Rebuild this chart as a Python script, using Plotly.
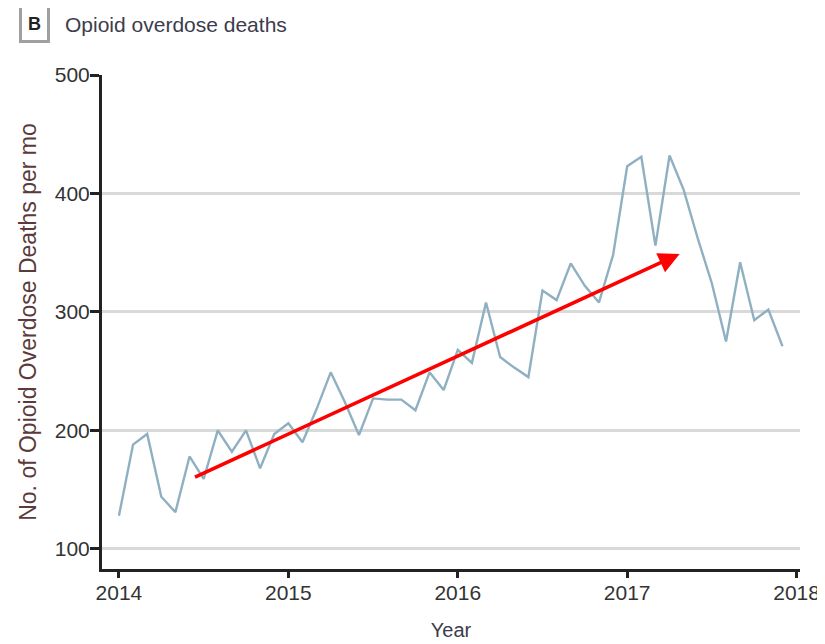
import plotly.graph_objects as go

# Monthly opioid overdose deaths, Jan 2014 - Dec 2017
start_year = 2014
deaths = [128, 188, 197, 144, 131, 178, 159, 200, 182, 200, 168, 197,
          206, 190, 218, 249, 224, 196, 227, 226, 226, 217, 249, 234,
          268, 257, 308, 262, 253, 245, 318, 310, 341, 322, 308, 348,
          423, 431, 356, 432, 403, 362, 324, 275, 342, 293, 302, 271]
x_vals = [start_year + i / 12 for i in range(len(deaths))]

# Trend arrow (start / end) in data coordinates
arrow_x = [2014.44, 2017.31]
arrow_y = [160, 349]

y_ticks = [100, 200, 300, 400, 500]
x_ticks = [2014, 2015, 2016, 2017, 2018]

FONT = "Liberation Sans, Arial, sans-serif"

fig = go.Figure()
fig.add_trace(go.Scatter(
    x=x_vals, y=deaths, mode="lines",
    line=dict(color="#8fb0c0", width=2.4),
    showlegend=False, hoverinfo="skip"))

fig.add_annotation(
    x=arrow_x[1], y=arrow_y[1], ax=arrow_x[0], ay=arrow_y[0],
    xref="x", yref="y", axref="x", ayref="y",
    showarrow=True, arrowhead=2, arrowsize=1.2, arrowwidth=3.5,
    arrowcolor="#ff0000", text="")

# Panel label and title
fig.add_annotation(
    x=-0.0973, y=1.103, xref="paper", yref="paper",
    text="<b>B</b>", showarrow=False,
    font=dict(family=FONT, size=18, color="#222222"),
    bordercolor="#a0a0a0", borderwidth=3, borderpad=6,
    xanchor="center", yanchor="middle")
fig.add_annotation(
    x=-0.0558, y=1.103, xref="paper", yref="paper",
    text="Opioid overdose deaths", showarrow=False,
    font=dict(family=FONT, size=21, color="#3c3c4c"),
    xanchor="left", yanchor="middle")

# The page adds an 8px body margin, so the figure is sized to fit the window
fig.update_layout(
    width=817, height=636,
    margin=dict(l=94, r=25, t=67, b=75),
    paper_bgcolor="white", plot_bgcolor="white",
    font=dict(family=FONT, size=20, color="#333333"),
)
fig.update_xaxes(
    range=[2013.9, 2018.02], tickvals=x_ticks,
    ticktext=[str(t) for t in x_ticks],
    showgrid=False, zeroline=False, automargin=False,
    showline=True, linecolor="#222222", linewidth=3,
    ticks="outside", ticklen=6, tickwidth=2.5, tickcolor="#222222",
    ticklabelstandoff=-3,
    tickfont=dict(family=FONT, size=21, color="#333333"),
    title=dict(text="Year", standoff=20,
               font=dict(family=FONT, size=20, color="#3c3c4c")))
fig.update_yaxes(
    range=[83, 500], tickvals=y_ticks,
    showgrid=True, gridcolor="#d9d9d9", gridwidth=2.5, zeroline=False,
    automargin=False,
    showline=True, linecolor="#222222", linewidth=3,
    ticks="outside", ticklen=9, tickwidth=2.5, tickcolor="#222222",
    ticklabelstandoff=-4,
    tickfont=dict(family=FONT, size=21, color="#333333"),
    title=dict(text="No. of Opioid Overdose Deaths per mo", standoff=12,
               font=dict(family=FONT, size=23, color="#5a3a3a")))

fig.write_html("out.html")
